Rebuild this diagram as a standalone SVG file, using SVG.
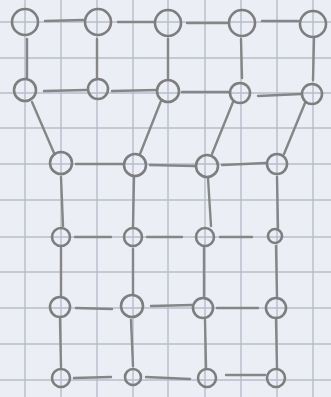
<svg xmlns="http://www.w3.org/2000/svg" width="331" height="397" viewBox="0 0 331 397">
<style>
.grid line{stroke:#b8bccb;stroke-width:1.4}
.edges line{stroke:#868686;stroke-width:2.4;stroke-linecap:round}
.node circle{fill:none;stroke:#7e7e7e;stroke-width:2.6}
</style>
<rect width="331" height="397" fill="#eceef5"/>
<g class="grid">
<line x1="25" y1="0" x2="25" y2="397"/><line x1="61" y1="0" x2="61" y2="397"/><line x1="97" y1="0" x2="97" y2="397"/><line x1="133" y1="0" x2="133" y2="397"/><line x1="168" y1="0" x2="168" y2="397"/><line x1="205" y1="0" x2="205" y2="397"/><line x1="241" y1="0" x2="241" y2="397"/><line x1="277" y1="0" x2="277" y2="397"/><line x1="313" y1="0" x2="313" y2="397"/>
<line x1="0" y1="22" x2="331" y2="22"/><line x1="0" y1="58" x2="331" y2="58"/><line x1="0" y1="93" x2="331" y2="93"/><line x1="0" y1="128" x2="331" y2="128"/><line x1="0" y1="164" x2="331" y2="164"/><line x1="0" y1="200" x2="331" y2="200"/><line x1="0" y1="237" x2="331" y2="237"/><line x1="0" y1="272" x2="331" y2="272"/><line x1="0" y1="308" x2="331" y2="308"/><line x1="0" y1="344" x2="331" y2="344"/><line x1="0" y1="380" x2="331" y2="380"/>
</g>
<g class="edges">
<line x1="45" y1="21" x2="83" y2="20"/><line x1="118" y1="22" x2="154" y2="22"/><line x1="187" y1="23" x2="227" y2="23"/><line x1="262" y1="21" x2="298" y2="21"/>
<line x1="27" y1="39" x2="27" y2="78"/><line x1="97" y1="39" x2="97" y2="79"/><line x1="168" y1="39" x2="168" y2="78"/><line x1="241" y1="39" x2="242" y2="78"/><line x1="314" y1="39" x2="313" y2="80"/>
<line x1="44" y1="91" x2="86" y2="90"/><line x1="112" y1="91" x2="157" y2="90"/><line x1="182" y1="92" x2="229" y2="92"/><line x1="258" y1="96" x2="301" y2="94"/>
<line x1="32" y1="102" x2="54" y2="153"/><line x1="161" y1="101" x2="140" y2="154"/><line x1="233" y1="102" x2="212" y2="154"/><line x1="305" y1="103" x2="284" y2="154"/>
<line x1="76" y1="164" x2="123" y2="164"/><line x1="150" y1="165" x2="195" y2="166"/><line x1="222" y1="165" x2="266" y2="163"/>
<line x1="61" y1="177" x2="63" y2="226"/><line x1="134" y1="177" x2="133" y2="227"/><line x1="208" y1="178" x2="211" y2="226"/><line x1="277" y1="177" x2="278" y2="228"/>
<line x1="75" y1="237" x2="111" y2="237"/><line x1="147" y1="237" x2="182" y2="237"/><line x1="220" y1="237" x2="252" y2="237"/>
<line x1="61" y1="248" x2="61" y2="296"/><line x1="133" y1="249" x2="133" y2="295"/><line x1="204" y1="248" x2="204" y2="296"/><line x1="276" y1="246" x2="277" y2="297"/>
<line x1="76" y1="308" x2="112" y2="309"/><line x1="151" y1="306" x2="192" y2="305"/><line x1="217" y1="308" x2="258" y2="308"/>
<line x1="60" y1="319" x2="61" y2="367"/><line x1="131" y1="320" x2="133" y2="366"/><line x1="205" y1="320" x2="206" y2="367"/><line x1="276" y1="320" x2="277" y2="368"/>
<line x1="74" y1="378" x2="111" y2="377"/><line x1="146" y1="377" x2="190" y2="379"/><line x1="226" y1="375" x2="265" y2="375"/>
</g>
<g id="n1" class="node"><circle cx="25" cy="22" r="13"/></g>
<g id="n2" class="node"><circle cx="98" cy="22" r="13"/></g>
<g id="n3" class="node"><circle cx="168" cy="23" r="13"/></g>
<g id="n4" class="node"><circle cx="242" cy="23" r="13"/></g>
<g id="n5" class="node"><circle cx="313" cy="24" r="13"/></g>
<g id="n6" class="node"><circle cx="25" cy="90" r="11"/></g>
<g id="n7" class="node"><circle cx="98" cy="89" r="10"/></g>
<g id="n8" class="node"><circle cx="168" cy="91" r="11"/></g>
<g id="n9" class="node"><circle cx="240" cy="93" r="10"/></g>
<g id="n10" class="node"><circle cx="312" cy="94" r="10"/></g>
<g id="n11" class="node"><circle cx="61" cy="163" r="11"/></g>
<g id="n12" class="node"><circle cx="135" cy="165" r="11"/></g>
<g id="n13" class="node"><circle cx="207" cy="166" r="11"/></g>
<g id="n14" class="node"><circle cx="277" cy="164" r="10"/></g>
<g id="n15" class="node"><circle cx="61" cy="237" r="9"/></g>
<g id="n16" class="node"><circle cx="133" cy="237" r="9"/></g>
<g id="n17" class="node"><circle cx="205" cy="237" r="9"/></g>
<g id="n18" class="node"><circle cx="275" cy="236" r="7"/></g>
<g id="n19" class="node"><circle cx="60" cy="307" r="10"/></g>
<g id="n20" class="node"><circle cx="132" cy="306" r="11"/></g>
<g id="n21" class="node"><circle cx="203" cy="308" r="10"/></g>
<g id="n22" class="node"><circle cx="276" cy="308" r="10"/></g>
<g id="n23" class="node"><circle cx="61" cy="378" r="9"/></g>
<g id="n24" class="node"><circle cx="133" cy="377" r="8"/></g>
<g id="n25" class="node"><circle cx="207" cy="378" r="9"/></g>
<g id="n26" class="node"><circle cx="276" cy="378" r="9"/></g>
</svg>
